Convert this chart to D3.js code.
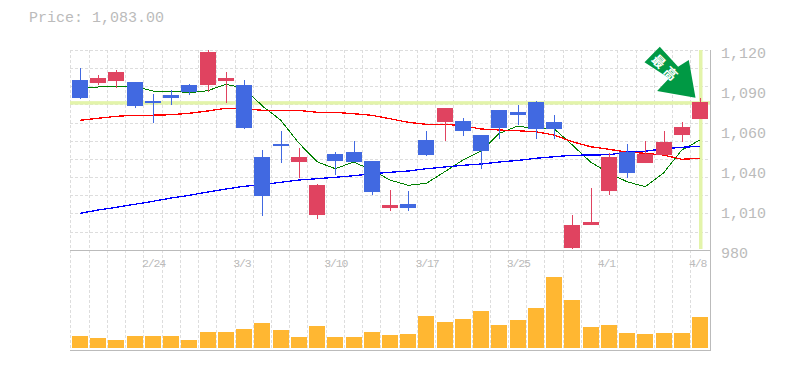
<!DOCTYPE html>
<html>
<head>
<meta charset="utf-8">
<script src="https://cdn.jsdelivr.net/npm/d3@7"></script>
<style>
body { margin: 0; background: #fff; }
svg { display: block; }
text { font-family: "Liberation Mono", monospace; fill: #bbb; }
</style>
</head>
<body>
<svg id="chart" width="785" height="370"></svg>
<script>
var dates = ['2/18','2/19','2/20','2/21','2/24','2/25','2/26','2/27','2/28','3/3','3/4','3/5','3/6','3/7','3/10','3/11','3/12','3/13','3/14','3/17','3/18','3/19','3/20','3/24','3/25','3/26','3/27','3/28','3/31','4/1','4/2','4/3','4/4','4/7','4/8'];
var opens = [1099.2,1097.1,1098.5,1097.8,1084.5,1088.7,1095.7,1095.7,1098.5,1095.7,1045.3,1054.4,1041.8,1004.7,1047.4,1048.8,1042.5,1009.6,1012.4,1057.2,1069.8,1070.5,1060.7,1078.2,1076.8,1083.8,1069.8,981.6,997.7,1021.5,1048.8,1041.1,1046.7,1060.7,1071.9];
var closes = [1086.6,1100.6,1104.8,1081,1083.1,1086.6,1090.8,1118.8,1100.6,1065.6,1018,1053,1045.3,1025.7,1042.5,1041.8,1020.8,1011.7,1009.6,1046.7,1079.6,1063.5,1049.5,1065.6,1074.7,1064.9,1064.9,997.7,999.8,1045.3,1034.1,1047.4,1055.8,1066.3,1083.8];
var highs = [1107.6,1102.7,1106.2,1097.8,1089.4,1092.2,1096.4,1120.2,1104.8,1099.2,1050.2,1063.5,1051.6,1026.4,1048.8,1056.5,1042.5,1022.2,1021.5,1063.5,1079.6,1072.6,1060.7,1078.2,1081.7,1084.5,1074.7,1004.7,1023.6,1048.1,1054.4,1056.5,1063.5,1069.8,1086.6];
var lows = [1085.9,1095.7,1093.6,1079.6,1069.1,1081.7,1088.7,1090.8,1083.1,1064.9,1004,1041.1,1030.6,1001.9,1032.7,1041.8,1018.7,1007.5,1007.5,1046,1056.5,1060,1036.9,1057.9,1067.7,1057.9,1057.9,980.9,997.7,1018.7,1030.6,1041.1,1046.7,1055.8,1071.9];
var ma_short = [1094.3,1094.3,1094.5,1094.8,1091.5,1091.5,1090.3,1091.7,1096.2,1093.6,1081,1071.2,1055.1,1042,1037.1,1041.8,1036.2,1029.2,1025.5,1026.9,1035,1043.2,1049.5,1061.9,1067,1064.9,1065.1,1053.7,1041.8,1034.1,1028,1024.5,1034.1,1050.2,1057.2];
var ma_mid = [1071,1072.4,1073.8,1074.5,1074.6,1074.9,1075.9,1077.5,1079.4,1079.1,1078,1078,1077.9,1076.6,1076.6,1075.6,1074.5,1072.1,1069.6,1068.2,1068.2,1067.2,1064.9,1064.2,1063.7,1063,1060.7,1056,1052.5,1050.7,1048.8,1047.9,1046.7,1043.7,1044.4];
var ma_long = [1005.9,1008.2,1010.1,1012.2,1014.3,1016.6,1018.5,1020.8,1022.9,1024.8,1025.9,1027.6,1029.2,1030.1,1031.1,1032.2,1033.6,1034.6,1035.5,1037.1,1038.3,1039.5,1040.4,1041.8,1042.9,1044.4,1045.5,1046.5,1046.7,1046.9,1048.8,1049.3,1051.1,1052.1,1052.8];
var volumes = [1200,1000,800,1200,1200,1200,800,1600,1600,1900,2500,1800,1100,2200,1100,1100,1600,1300,1400,3200,2600,2900,3700,2300,2800,4000,7100,4800,2100,2300,1500,1400,1500,1500,3100];
var price_ticks = [1120,1092,1064,1036,1008,980]; // shown rounded to tens
var date_ticks = ['2/24','3/3','3/10','3/17','3/25','4/1','4/8'];
var grid_prices = d3.range(12).map(function(i) { return 980 + i * 140 / 11; });
var last_price = 1083;
var price_label = 'Price: 1,083.00';
var arrow_label = '最高';

var svg = d3.select('#chart');

var x = d3.scaleBand().domain(dates).range([70.9, 709.1]);
var y = d3.scaleLinear().domain([980, 1120]).range([250.3, 50.3]);
var yVol = d3.scaleLinear().domain([0, 7100]).range([348, 277]);

var up_color = '#e04360', down_color = '#4169e1';
var grid_color = '#ddd', axis_color = '#bbb', hl_color = '#e3f4aa';

function cx(d) { return Math.round(x(d) + x.bandwidth() / 2); }

// grid
svg.append('g').selectAll('line').data(grid_prices.slice(1)).enter().append('line')
    .attr('x1', 70).attr('x2', 710)
    .attr('y1', function(d) { return Math.floor(y(d)) + 0.5; })
    .attr('y2', function(d) { return Math.floor(y(d)) + 0.5; })
    .attr('stroke', grid_color).attr('stroke-dasharray', '3,2');

svg.append('g').selectAll('line').data(dates).enter().append('line')
    .attr('x1', function(d) { return Math.floor(x(d)) + 0.5; })
    .attr('x2', function(d) { return Math.floor(x(d)) + 0.5; })
    .attr('y1', 50).attr('y2', 350)
    .attr('stroke', grid_color).attr('stroke-dasharray', '3,2');

// pane borders
[250.5, 350.5].forEach(function(v) {
    svg.append('line').attr('x1', 70).attr('x2', 711).attr('y1', v).attr('y2', v).attr('stroke', axis_color);
});
svg.append('line').attr('x1', 710.5).attr('x2', 710.5).attr('y1', 50).attr('y2', 351).attr('stroke', axis_color);

// last price cross
svg.append('rect').attr('x', 70).attr('width', 640).attr('y', y(last_price) - 2).attr('height', 3.5).attr('fill', hl_color);
svg.append('rect').attr('x', cx('4/8') - 1).attr('width', 3.5).attr('y', 50).attr('height', 199).attr('fill', hl_color);

// moving averages
var line = d3.line()
    .x(function(d, i) { return x(dates[i]) + x.bandwidth() / 2; })
    .y(function(d) { return y(d); });

[[ma_short, '#008000', 1], [ma_mid, '#ff0000', 1.3], [ma_long, '#0000ff', 1.3]].forEach(function(s) {
    svg.append('path').datum(s[0]).attr('fill', 'none').attr('stroke', s[1]).attr('stroke-width', s[2])
        .attr('shape-rendering', 'crispEdges').attr('d', line);
});

// candles
var candle = svg.append('g').selectAll('g').data(dates).enter().append('g')
    .attr('fill', function(d, i) { return closes[i] >= opens[i] ? up_color : down_color; });

candle.append('rect') // wick
    .attr('x', function(d) { return cx(d); })
    .attr('width', 1)
    .attr('y', function(d, i) { return y(highs[i]); })
    .attr('height', function(d, i) { return y(lows[i]) - y(highs[i]); });

candle.append('rect') // body
    .attr('x', function(d) { return cx(d) - 8; })
    .attr('width', 16)
    .attr('y', function(d, i) { return y(Math.max(opens[i], closes[i])); })
    .attr('height', function(d, i) { return Math.abs(y(opens[i]) - y(closes[i])); });

// volume
svg.append('g').selectAll('rect').data(dates).enter().append('rect')
    .attr('x', function(d) { return cx(d) - 8; })
    .attr('width', 16)
    .attr('y', function(d, i) { return yVol(volumes[i]); })
    .attr('height', function(d, i) { return yVol(0) - yVol(volumes[i]); })
    .attr('fill', '#ffb732');

// axes
var yAxis = svg.append('g').attr('transform', 'translate(721,0)')
    .call(d3.axisRight(y).tickValues(price_ticks).tickSize(0).tickPadding(0)
        .tickFormat(function(d) { return d3.format(',')(Math.round(d / 10) * 10); }));
yAxis.select('.domain').remove();
yAxis.attr('font-family', null);
yAxis.selectAll('text').attr('font-size', 15).attr('dy', '6.7px').attr('fill', null);

var xAxis = svg.append('g').attr('transform', 'translate(0,266.5)')
    .call(d3.axisBottom(x).tickValues(date_ticks).tickSize(0).tickPadding(0));
xAxis.select('.domain').remove();
xAxis.attr('font-family', null).attr('text-anchor', 'start');
xAxis.selectAll('text').attr('font-size', 11.5).attr('dy', 0).attr('y', 0).attr('x', -11)
    .attr('letter-spacing', '-1.15px').attr('fill', null);

svg.append('text').attr('x', 29).attr('y', 22).attr('font-size', 15).text(price_label);

// high marker
var tip = [cx('4/8') - 4.5, y(last_price) - 5.5];
var arrow_shape = [[-35.7,-51],[-17.4,-31],[-6.7,-37.7],[0,0],[-38.4,-6.7],[-26.4,-19.4],[-51,-35.4]];
var arrow = svg.append('g').attr('transform', 'translate(' + tip[0] + ',' + tip[1] + ')');
arrow.append('polygon').attr('points', arrow_shape.join(' ')).attr('fill', '#009944');
arrow.append('text').attr('transform', 'translate(-29.5,-28.6) rotate(45)')
    .attr('text-anchor', 'middle').attr('y', 4.5).attr('letter-spacing', '4px')
    .style('font-family', '"Noto Sans CJK JP"').style('font-size', '13px').style('font-weight', 'bold').style('fill', '#fff')
    .text(arrow_label);
</script>
</body>
</html>
